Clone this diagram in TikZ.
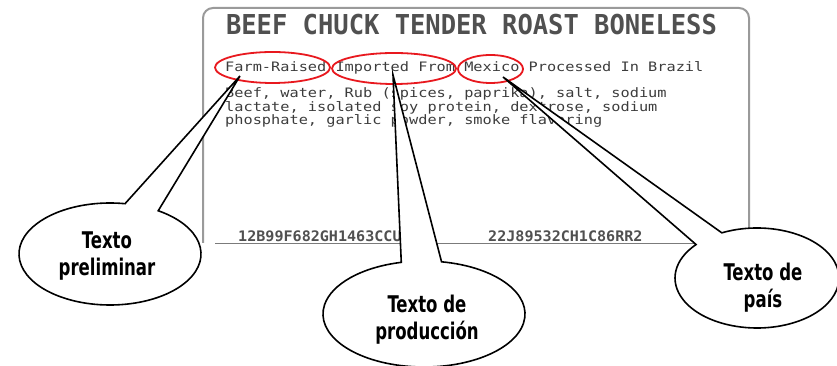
\documentclass[tikz,border=0pt]{standalone}
\usepackage{fontspec}
\usetikzlibrary{calc,shapes.geometric}
\newfontfamily\titlefont[FakeStretch=0.93]{DejaVu Sans Mono}
\newfontfamily\labelfont[FakeStretch=1.175]{DejaVu Sans Mono}
\newfontfamily\codefont[FakeStretch=1.04]{DejaVu Sans Mono}
\newfontfamily\callfont[FakeStretch=0.8]{DejaVu Sans Condensed}
\definecolor{ink}{HTML}{505050}
\definecolor{darkink}{HTML}{3C3C3C}
\definecolor{framegray}{HTML}{9A9A9A}
\definecolor{mark}{HTML}{E8181E}
\begin{document}
\begin{tikzpicture}[x=1pt,y=1pt,
  titletext/.style={font=\titlefont\bfseries\fontsize{27.4}{30}\selectfont, text=ink, inner sep=0pt, anchor=base},
  labeltext/.style={font=\labelfont\fontsize{13}{13.5}\selectfont, text=darkink, inner sep=0pt, anchor=base west},
  codetext/.style={font=\codefont\bfseries\fontsize{14.5}{16}\selectfont, text=ink, inner sep=0pt, anchor=base west},
  redring/.style={draw=mark, line width=1.8pt, ellipse, inner sep=0pt},
  balloon/.style={draw=black, line width=1.6pt, fill=white, line join=miter},
  callout/.style={font=\callfont\bfseries\fontsize{23}{27}\selectfont, align=center, inner sep=0pt, anchor=north},
]
\useasboundingbox (0,0) rectangle (837,366);

% label frame
\draw[framegray, line width=2pt, rounded corners=10pt] (203,123) -- (203,358) -- (749,358) -- (749,123);
\draw[framegray!80!black, line width=0.8pt] (215,123) -- (749,123);

% label texts
\node[titletext] (title) at (471.5,331) {BEEF CHUCK TENDER ROAST BONELESS};
\node[labeltext] (claim) at (225,294.3) {Farm-Raised Imported From Mexico Processed In Brazil};
\node[labeltext] (ing1) at (225,268) {Beef, water, Rub (spices, paprika), salt, sodium};
\node[labeltext] (ing2) at (225,254.5) {lactate, isolated soy protein, dextrose, sodium};
\node[labeltext] (ing3) at (225,241) {phosphate, garlic powder, smoke flavoring};
\node[codetext] (code1) at (238,124.5) {12B99F682GH1463CCU};
\node[codetext] (code2) at (488,124.5) {22J89532CH1C86RR2};

% red markings
\node[redring, minimum width=115pt, minimum height=31pt] (farm) at (272.5,298.5) {};
\node[redring, minimum width=124pt, minimum height=31pt] (imported) at (394,297.5) {};
\node[redring, minimum width=65pt, minimum height=28pt] (mexico) at (490.5,297) {};

% callout balloons
\coordinate (tip1) at (240,290);
\coordinate (c1) at (110,112);
\draw[balloon] (tip1) -- ($(c1)+(58:91pt and 51pt)$) arc[start angle=58, end angle=-279.5, x radius=91pt, y radius=51pt] -- cycle;

\coordinate (tip2) at (393,291);
\coordinate (c2) at (424,52);
\draw[balloon] (tip2) -- ($(c2)+(80:101pt and 53pt)$) arc[start angle=80, end angle=-257, x radius=101pt, y radius=53pt] -- cycle;

\coordinate (tip3) at (503,289);
\coordinate (c3) at (757,88);
\draw[balloon] (tip3) -- ($(c3)+(115.4:82pt and 50pt)$) arc[start angle=115.4, end angle=-222, x radius=82pt, y radius=50pt] -- cycle;

\node[callout] (t1) at (107,134.8) {Texto\\preliminar};
\node[callout] (t2) at (427,71.5) {Texto de\\producción};
\node[callout] (t3) at (763,103.5) {Texto de\\país};
\end{tikzpicture}
\end{document}
